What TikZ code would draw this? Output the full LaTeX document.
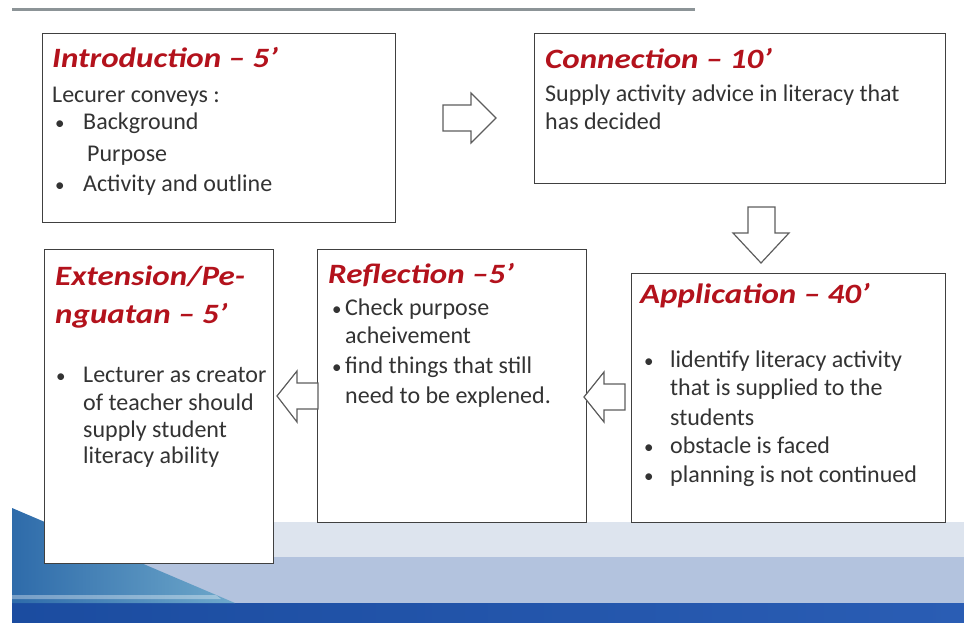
\documentclass[tikz,border=0pt]{standalone}
\usepackage{fontspec}
\setmainfont{Carlito}
\newfontfamily\titlefont[FakeStretch=1.18]{Carlito}
\definecolor{titlered}{HTML}{B3121C}
\definecolor{bodygray}{HTML}{333333}
\definecolor{boxline}{HTML}{404040}
\definecolor{rulegray}{HTML}{8C9497}
\definecolor{lightband}{HTML}{DDE4EE}
\definecolor{midband}{HTML}{B3C3DE}
\definecolor{darkbandA}{HTML}{1B4CA0}
\definecolor{darkbandB}{HTML}{2A5DB4}
\definecolor{triA}{HTML}{2E6BAA}
\definecolor{triB}{HTML}{6FA9CB}
\tikzset{
  box/.style={draw=boxline, line width=1.4pt, fill=white, inner sep=0pt, anchor=north west},
  ttl/.style={anchor=base west, inner sep=0pt, text=titlered, font=\titlefont\fontsize{28}{30}\selectfont\bfseries\itshape},
  txt/.style={anchor=base west, inner sep=0pt, text=bodygray, font=\fontsize{24}{28}\selectfont},
  blt/.style={anchor=base west, inner sep=0pt, text=bodygray, font=\fontsize{19}{28}\selectfont},
  blockarr/.style={draw=boxline!85, line width=1.2pt, fill=white, line join=miter}
}
\begin{document}
\begin{tikzpicture}[x=1pt,y=-1pt]
\useasboundingbox (0,0) rectangle (964,623);
% background bands
\fill[lightband] (12,522) rectangle (964,557);
\fill[midband] (12,557) rectangle (964,603);
\shade[left color=darkbandA, right color=darkbandB] (12,603) rectangle (964,623);
\shade[left color=triA, right color=triB] (12,508) -- (235,603) -- (12,603) -- cycle;
\fill[white, opacity=0.35] (12,595) -- (216,595) -- (221,599) -- (12,599) -- cycle;
% top rule
\draw[rulegray, line width=3pt] (12,10) -- (695,10);
% boxes
\node[box, minimum width=353pt, minimum height=189pt] (intro) at (42,33) {};
\node[box, minimum width=411pt, minimum height=150pt] (conn) at (534,33) {};
\node[box, minimum width=229pt, minimum height=314pt] (ext) at (44,249) {};
\node[box, minimum width=269pt, minimum height=273pt] (refl) at (317,249) {};
\node[box, minimum width=314pt, minimum height=249pt] (appl) at (631,273) {};
% block arrows
\draw[blockarr] (443,105) -- (471,105) -- (471,93) -- (496,118) -- (471,143) -- (471,131) -- (443,131) -- cycle;
\draw[blockarr] (748,207) -- (775,207) -- (775,233) -- (789,233) -- (761,263) -- (733,233) -- (748,233) -- cycle;
\draw[blockarr] (318,383) -- (297,383) -- (297,371) -- (277,396) -- (297,422) -- (297,409) -- (318,409) -- cycle;
\draw[blockarr] (625,384) -- (604,384) -- (604,372) -- (584,397) -- (604,422) -- (604,410) -- (625,410) -- cycle;
% Introduction
\node[ttl] (introT) at (52,68) {Introduction – 5’};
\node[txt] (introL1) at (52,103) {Lecurer conveys :};
\node[blt] (introB1) at (55,130) {•};
\node[txt] (introL2) at (83,130) {Background};
\node[txt] (introL3) at (87,162) {Purpose};
\node[blt] (introB2) at (55,191) {•};
\node[txt] (introL4) at (83,191) {Activity and outline};
% Connection
\node[ttl] (connT) at (545,69) {Connection – 10’};
\node[txt] (connL1) at (545,102) {Supply activity advice in literacy that};
\node[txt] (connL2) at (545,130) {has decided};
% Extension
\node[ttl] (extT1) at (55,285) {Extension/Pe-};
\node[ttl] (extT2) at (55,323) {nguatan – 5’};
\node[blt] (extB1) at (56,382) {•};
\node[txt] (extL1) at (83,382) {Lecturer as creator};
\node[txt] (extL2) at (83,410) {of teacher should};
\node[txt] (extL3) at (83,437) {supply student};
\node[txt] (extL4) at (83,463) {literacy ability};
% Reflection
\node[ttl] (reflT) at (328,283) {Reflection –5’};
\node[blt] (reflB1) at (332,315) {•};
\node[txt] (reflL1) at (345,315) {Check purpose};
\node[txt] (reflL2) at (345,343) {acheivement};
\node[blt] (reflB2) at (332,373) {•};
\node[txt] (reflL3) at (345,373) {find things that still};
\node[txt] (reflL4) at (345,403) {need to be explened.};
% Application
\node[ttl] (applT) at (640,303) {Application – 40’};
\node[blt] (applB1) at (644,367) {•};
\node[txt] (applL1) at (670,367) {lidentify literacy activity};
\node[txt] (applL2) at (670,395) {that is supplied to the};
\node[txt] (applL3) at (670,425) {students};
\node[blt] (applB2) at (644,453) {•};
\node[txt] (applL4) at (670,453) {obstacle is faced};
\node[blt] (applB3) at (644,482) {•};
\node[txt] (applL5) at (670,482) {planning is not continued};
\end{tikzpicture}
\end{document}
